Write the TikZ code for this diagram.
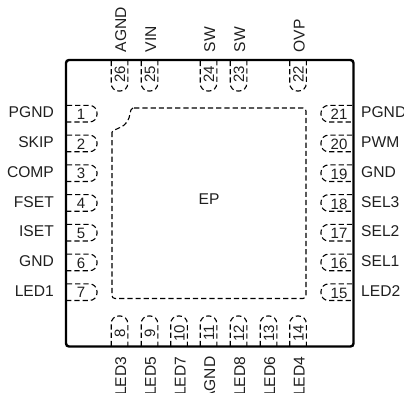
\documentclass[tikz,border=0pt]{standalone}
\usepackage{fontspec}
\setmainfont{Liberation Sans}
\tikzset{
  pkg/.style={line width=2.4pt,black,rounded corners=3pt},
  pinline/.style={line width=1.1pt,black,dash pattern=on 5.2pt off 3pt,rounded corners=7.5pt},
  eppad/.style={line width=1.1pt,black,dash pattern=on 5.2pt off 3pt},
  lbl/.style={font=\fontsize{15.6}{16}\selectfont,text=black!88,inner sep=0pt},
  num/.style={font=\fontsize{15}{16}\selectfont,text=black!88,inner sep=0pt}
}
\begin{document}
\begin{tikzpicture}[x=1pt,y=-1pt]
\useasboundingbox (0,0) rectangle (404,393);
\clip (0,0) rectangle (404,393);
\draw[pkg] (66,60) rectangle (353.5,346.5);
\draw[eppad,rounded corners=3pt] (112,132) -- (112,298.5) -- (306,298.5) -- (306,108) -- (133,108);
\draw[eppad] (133,108) .. controls (129,109) and (131,117) .. (127,122) .. controls (123,128) and (116,128) .. (112,132);
\node[lbl] (ep) at (209,199.5) {EP};
% left pins
\foreach \n/\t [count=\i from 0] in {1/PGND,2/SKIP,3/COMP,4/FSET,5/ISET,6/GND,7/LED1}{
  \pgfmathsetmacro\yy{113.7+29.75*\i}
  \draw[pinline] (67,\yy-8.3) -- (97,\yy-8.3) -- (97,\yy+8.3) -- (67,\yy+8.3);
  \node[num] (n\n) at (81,\yy+0.5) {\n};
  \node[lbl,anchor=east] (l\n) at (54,\yy-1.2) {\t};
}
% right pins
\foreach \n/\t [count=\i from 0] in {21/PGND,20/PWM,19/GND,18/SEL3,17/SEL2,16/SEL1,15/LED2}{
  \pgfmathsetmacro\yy{113.7+29.75*\i}
  \draw[pinline] (352,\yy-8.3) -- (321,\yy-8.3) -- (321,\yy+8.3) -- (352,\yy+8.3);
  \node[num] (n\n) at (339,\yy+1) {\n};
  \node[lbl,anchor=west] (l\n) at (361,\yy-1.2) {\t};
}
% top pins
\foreach \n/\t/\xx in {26/AGND/119.5,25/VIN/149.5,24/SW/208.5,23/SW/238.5,22/OVP/298}{
  \draw[pinline] (\xx-8.3,61) -- (\xx-8.3,91) -- (\xx+8.3,91) -- (\xx+8.3,61);
  \node[num,rotate=90] (n\n) at (\xx+0.5,74) {\n};
  \node[lbl,rotate=90,anchor=west] (l\n) at (\xx+1.2,52.5) {\t};
}
% bottom pins
\foreach \n/\t/\xx in {8/LED3/119.5,9/LED5/149.5,10/LED7/179,11/AGND/208.5,12/LED8/238.5,13/LED6/268.5,14/LED4/298}{
  \draw[pinline] (\xx-8.3,346) -- (\xx-8.3,316) -- (\xx+8.3,316) -- (\xx+8.3,346);
  \node[num,rotate=90] (n\n) at (\xx+0.5,333) {\n};
  \node[lbl,rotate=90,anchor=east] (l\n) at (\xx+1.2,356.5) {\t};
}
\end{tikzpicture}
\end{document}
